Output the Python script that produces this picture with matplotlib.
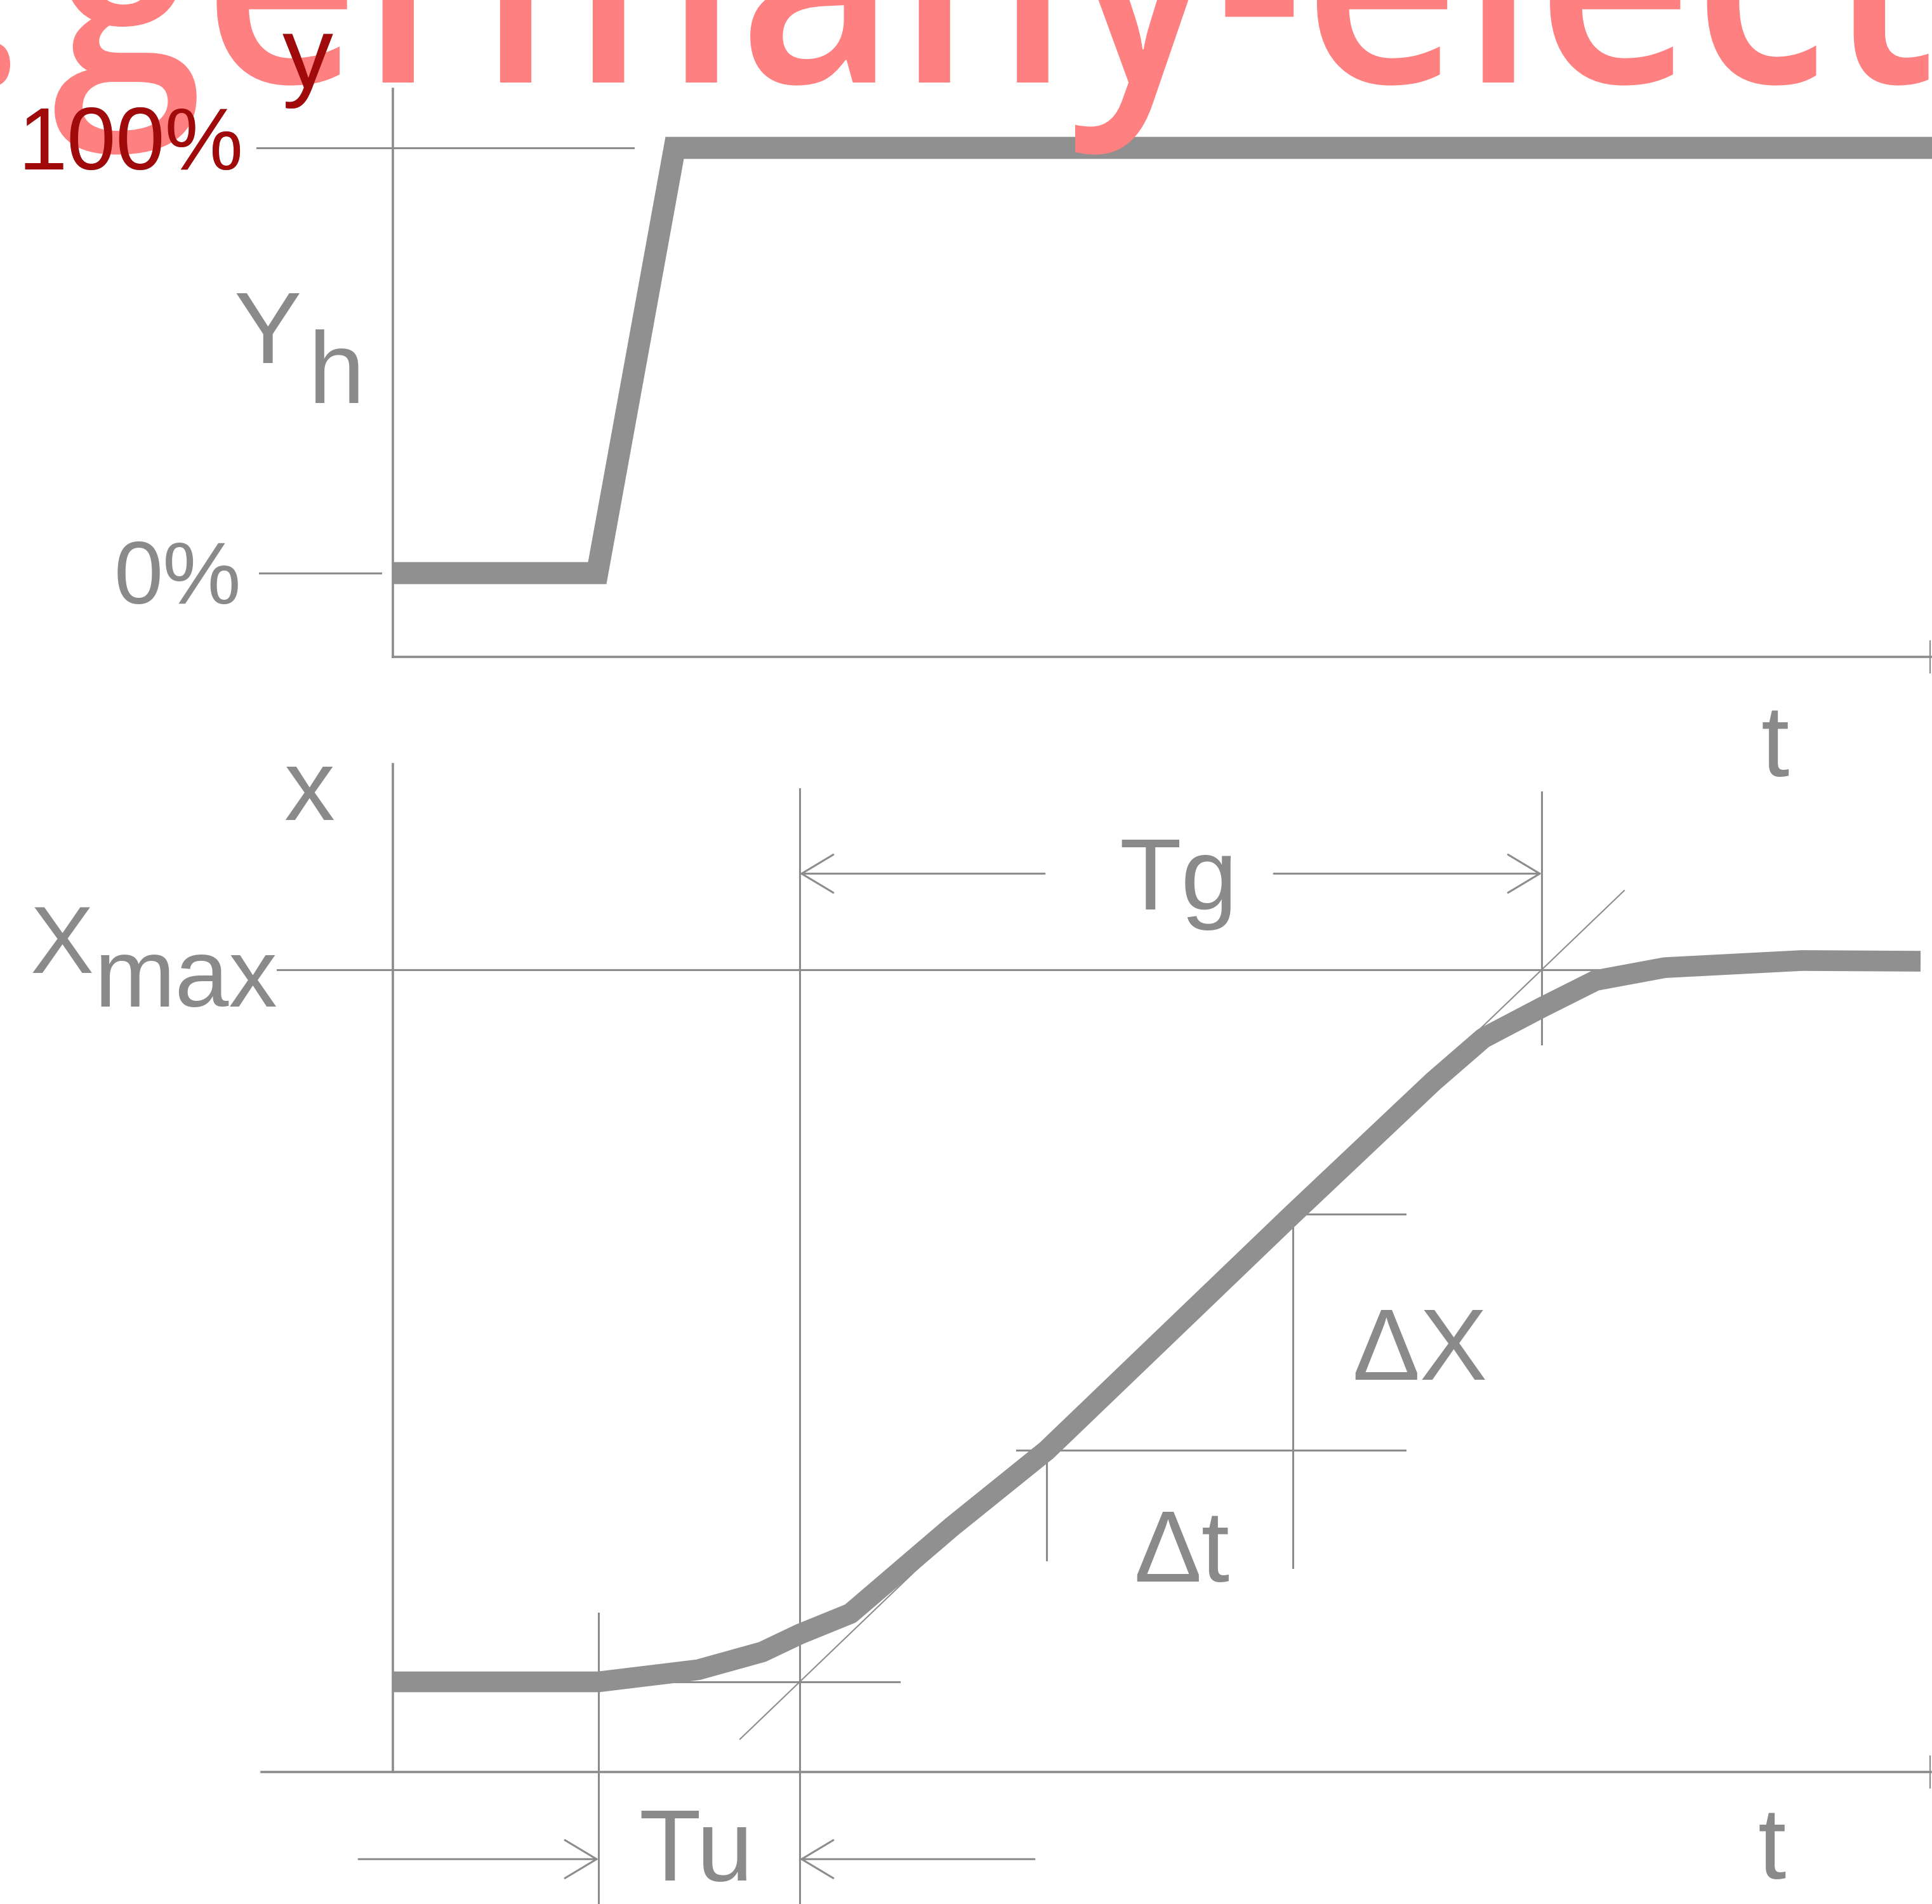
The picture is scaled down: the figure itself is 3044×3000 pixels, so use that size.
import matplotlib
matplotlib.use("Agg")
import matplotlib.pyplot as plt
from matplotlib import font_manager as fm
from matplotlib.font_manager import FontProperties
from matplotlib.textpath import TextPath
from matplotlib.patches import PathPatch
from matplotlib.path import Path
from matplotlib.transforms import Affine2D

# ---------------------------------------------------------------- data
# manipulated variable: step from 0 % to 100 %
step_t = [0.0, 3.22, 4.44, 24.6]
step_y = [0.0, 0.0, 100.0, 100.0]

# controlled variable: S-shaped step response (in % of Xmax)
resp_t = [0.0, 3.24, 4.81, 5.82, 6.41, 7.21, 8.81, 10.30, 14.18,
          16.39, 17.18, 18.10, 18.95, 20.04, 22.20, 24.07]
resp_x = [0.0, 0.0, 1.7, 4.2, 6.7, 9.6, 21.8, 32.5, 65.7,
          84.3, 90.4, 94.7, 98.5, 100.3, 101.3, 101.2]

tu_start = 3.24      # start of the response
tu_end = 6.41        # inflection tangent meets the base line
tg_end = 18.10       # inflection tangent meets Xmax
x_max = 100.0

# slope triangle on the inflection tangent
dt_t = [10.30, 14.18]
dx_x = [32.5, 65.7]

y_levels = [0.0, 100.0]
y_level_labels = ["0%", "100%"]

# ---------------------------------------------------------------- style
THICK = "#909090"
THIN = "#8c8c8c"
TEXT = "#8a8a8a"
PINK = "#ff8080"
DARK = "#a00a0a"

names = {f.name for f in fm.fontManager.ttflist}
LAB = "Liberation Sans" if "Liberation Sans" in names else "DejaVu Sans"
WMF = "Open Sans" if "Open Sans" in names else "DejaVu Sans"

FS = 115          # label size (pt)
FS_PCT = 100      # percentage labels
LW_AX = 2.6
LW_THIN = 2.2

DPI = 100
fig = plt.figure(figsize=(30.44, 30.0), dpi=DPI)
fig.patch.set_facecolor("white")

T_MIN, T_MAX = -6.19, 24.25

ax_top = fig.add_axes([0, 1 - 1035 / 3000, 1, 895 / 3000])
ax_bot = fig.add_axes([0, 1 - 2792 / 3000, 1, 1588 / 3000])
ax_top.set_ylim(-19.70, 113.88)
ax_bot.set_ylim(-12.66, 128.88)

for ax in (ax_top, ax_bot):
    ax.set_xlim(T_MIN, T_MAX)
    ax.set_facecolor("none")
    ax.set_xticks([])
    ax.set_yticks([])
    for s in ("top", "right"):
        ax.spines[s].set_visible(False)
    for s in ("left", "bottom"):
        ax.spines[s].set_color(THIN)
        ax.spines[s].set_linewidth(LW_AX)
    ax.spines["left"].set_position(("data", 0.0))
    ax.spines["left"].set_bounds(*ax.get_ylim())

ax_top.spines["bottom"].set_bounds(0.0, T_MAX)
ax_bot.spines["bottom"].set_bounds(-2.07, T_MAX)

# small end marks of the time axes
for ax, half in ((ax_top, 3.73), (ax_bot, 2.23)):
    y0 = ax.get_ylim()[0]
    ax.plot([24.22, 24.22], [y0 - half, y0 + half], color=THIN, lw=1.6,
            clip_on=False)


def label(ax, x, y, s, ha="left", size=FS, family=LAB, **kw):
    return ax.text(x, y, s, ha=ha, va="baseline", fontsize=size,
                   family=family, color=TEXT, clip_on=False, **kw)


# ---------------------------------------------------------------- top panel
ax_top.plot([-2.14, 3.79], [y_levels[1]] * 2, color=THIN, lw=LW_THIN,
            clip_on=False)
ax_top.plot([-2.10, -0.19], [y_levels[0]] * 2, color=THIN, lw=LW_THIN,
            clip_on=False)
ax_top.plot(step_t, step_y, color=THICK, lw=25, solid_joinstyle="miter",
            solid_capstyle="butt", zorder=5)

lab_100 = label(ax_top, -2.36, y_levels[1] - 5.1, y_level_labels[1],
                ha="right", size=FS_PCT)
label(ax_top, -2.39, y_levels[0] - 7.2, y_level_labels[0], ha="right",
      size=FS_PCT)
label(ax_top, -2.50, 49.4, "Y")
label(ax_top, -1.33, 40.0, "h")
lab_y = label(ax_top, -1.74, 114.2, "y")
label(ax_top, 21.78, -47.8, "t", ha="center")

# ---------------------------------------------------------------- bottom panel
# Xmax reference line
ax_bot.plot([-1.82, 19.0], [x_max, x_max], color=THIN, lw=LW_THIN)
# base line at the start of the response
ax_bot.plot([tu_start, 7.98], [0, 0], color=THIN, lw=LW_THIN)

# vertical markers for Tu and Tg
ax_bot.plot([tu_start, tu_start], [9.6, -32], color=THIN, lw=LW_THIN,
            clip_on=False)
ax_bot.plot([tu_end, tu_end], [125.4, -32], color=THIN, lw=LW_THIN,
            clip_on=False)
ax_bot.plot([tg_end, tg_end], [125.0, 89.6], color=THIN, lw=LW_THIN)

# inflection tangent
slope = x_max / (tg_end - tu_end)
tan_t = [5.47, 19.40]
ax_bot.plot(tan_t, [(t - tu_end) * slope for t in tan_t], color=THIN,
            lw=1.5)

# slope triangle
ax_bot.plot([9.83, 15.95], [dx_x[0]] * 2, color=THIN, lw=LW_THIN)
ax_bot.plot([dt_t[1], 15.95], [dx_x[1]] * 2, color=THIN, lw=LW_THIN)
ax_bot.plot([dt_t[0]] * 2, [dx_x[0], 17.1], color=THIN, lw=LW_THIN)
ax_bot.plot([dt_t[1]] * 2, [dx_x[1], 16.0], color=THIN, lw=LW_THIN)

# response curve
ax_bot.plot(resp_t, resp_x, color=THICK, lw=23.5, solid_joinstyle="round",
            solid_capstyle="butt", zorder=5)

# dimension arrows
ARROW = dict(arrowstyle="->,head_length=0.5,head_width=0.3", color=THIN,
             lw=LW_THIN, shrinkA=0, shrinkB=0, mutation_scale=72)
y_tg = 113.5
y_tu = -24.9
for tail, head, y in ((10.27, tu_end, y_tg), (13.88, tg_end, y_tg),
                      (-0.54, tu_start, y_tu), (10.11, tu_end, y_tu)):
    ax_bot.annotate("", xy=(head, y), xytext=(tail, y), arrowprops=ARROW,
                    annotation_clip=False)

label(ax_bot, 12.38, 108.5, "Tg", ha="center")
label(ax_bot, 4.78, -27.9, "Tu", ha="center")
label(ax_bot, 16.18, 42.4, "\u0394X", ha="center")
label(ax_bot, 12.43, 14.1, "\u0394t", ha="center")
label(ax_bot, 21.73, -27.6, "t", ha="center")
label(ax_bot, -1.32, 121.0, "x", ha="center")
label(ax_bot, -5.71, 99.55, "X", size=108)
label(ax_bot, -4.70, 94.8, "max", size=110)

# ---------------------------------------------------------------- watermark
wm_prop = FontProperties(family=WMF, weight="semibold", size=100)
ref = TextPath((0, 0), "germany-elec", prop=wm_prop).get_extents()
px_per_pt = DPI / 72.0
scale = 2781.0 / (ref.width * px_per_pt)
wm_prop.set_size(100 * scale)

main = TextPath((0, 0), "germany-electric", prop=wm_prop)
ext = main.get_extents()
main = main.transformed(Affine2D().translate(86 / px_per_pt - ext.x0, 0))
pre = TextPath((0, 0), "www.", prop=wm_prop)
pext = pre.get_extents()
pre = pre.transformed(Affine2D().translate(16 / px_per_pt - pext.x1, 0))
wm_path = Path.make_compound_path(pre, main)

base_in = (3000 - 130) / DPI
wm_tr = (Affine2D().scale(1 / 72.0, 1.1 / 72.0).translate(0, base_in)
         + fig.dpi_scale_trans)
wm = PathPatch(wm_path, transform=wm_tr, facecolor=PINK, edgecolor="none",
               zorder=10)
fig.add_artist(wm)

# labels under the watermark show through in a darker tone
for src, ax in ((lab_y, ax_top), (lab_100, ax_top)):
    x, y = src.get_position()
    dup = fig.text(x, y, src.get_text(), transform=ax.transData,
                   ha=src.get_ha(), va="baseline", fontsize=src.get_fontsize(),
                   family=src.get_fontfamily(), color=DARK, zorder=11)
    dup.set_clip_path(wm)

fig.savefig("out.png", dpi=DPI, facecolor="white")
